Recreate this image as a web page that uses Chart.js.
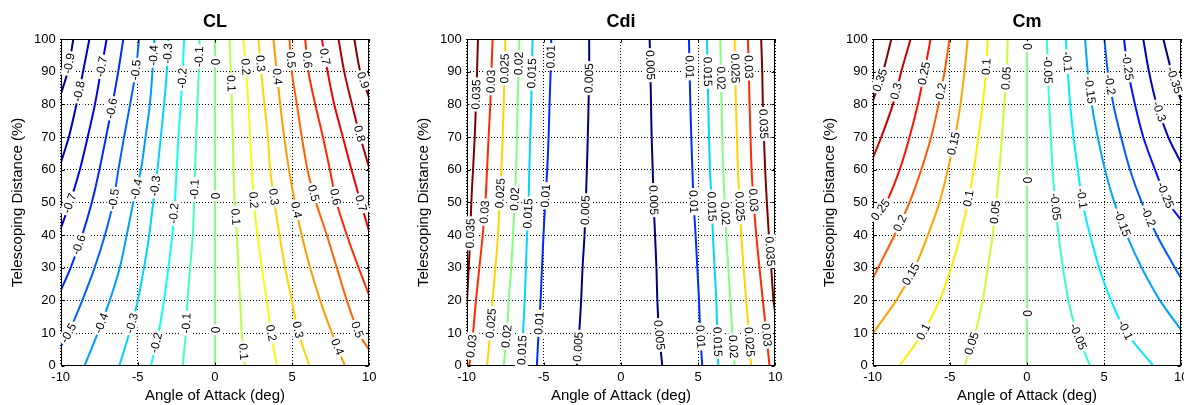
<!DOCTYPE html>
<html><head><meta charset="utf-8">
<script src="https://cdn.jsdelivr.net/npm/chart.js@4.4.1/dist/chart.umd.min.js"></script>
<style>
html,body{margin:0;padding:0;background:#fff;overflow:hidden;width:1184px;height:405px;position:relative}
canvas{position:absolute;top:0}
</style></head><body>
<canvas id="c1" width="395" height="405" style="left:0px;width:395px;height:405px"></canvas>
<canvas id="c2" width="395" height="405" style="left:406px;width:395px;height:405px"></canvas>
<canvas id="c3" width="395" height="405" style="left:812px;width:395px;height:405px"></canvas>
<script>
const _ = null;
// Telescoping distance levels (%) at which each contour's angle of attack was read
const TD = [0,10,20,30,40,50,60,70,80,90,100];
const xTicks = [-10,-5,0,5,10];
const yTicks = [0,10,20,30,40,50,60,70,80,90,100];

// ---------- CL ----------
const clLevels = [-0.9,-0.8,-0.7,-0.6,-0.5,-0.4,-0.3,-0.2,-0.1,0,0.1,0.2,0.3,0.4,0.5,0.6,0.7,0.8,0.9];
const clAoA = [
 [_,_,_,_,_,_,_,_,_,-9.55,-9.18],
 [_,_,_,_,_,_,_,-9.47,-8.98,-8.55,-8.14],
 [_,_,_,_,_,-9.4,-8.76,-8.25,-7.78,-7.4,-7.02],
 [_,_,_,-9.35,-8.6,-7.98,-7.49,-7.06,-6.65,-6.27,-5.94],
 [_,-9.5,-8.6,-7.8,-7.13,-6.6,-6.26,-5.89,-5.5,-5.14,-4.92],
 [-8.45,-7.6,-6.82,-6.17,-5.72,-5.29,-4.8,-4.5,-4.22,-4.05,-3.92],
 [-6.2,-5.55,-5.0,-4.6,-4.26,-4.0,-3.73,-3.51,-3.3,-3.12,-3.02],
 [-4.15,-3.66,-3.3,-3.02,-2.76,-2.6,-2.48,-2.37,-2.22,-2.09,-2.0],
 [-2.09,-1.89,-1.78,-1.61,-1.44,-1.35,-1.29,-1.22,-1.14,-1.05,-1.0],
 [0,0,0,0,0,0,0,0,0,0,0],
 [1.93,1.74,1.63,1.52,1.42,1.28,1.2,1.16,1.09,1.03,0.94],
 [4.01,3.64,3.36,3.04,2.76,2.52,2.39,2.28,2.17,2.02,1.85],
 [6.12,5.42,4.98,4.55,4.18,3.86,3.58,3.43,3.21,3.0,2.82],
 [8.42,7.58,6.82,6.17,5.62,5.18,4.8,4.49,4.23,4.01,3.79],
 [_,9.31,8.55,7.9,7.25,6.55,6.0,5.63,5.31,4.98,4.83],
 [_,_,_,9.31,8.55,7.88,7.45,7.0,6.5,6.06,5.85],
 [_,_,_,_,_,9.45,8.85,8.29,7.73,7.3,6.93],
 [_,_,_,_,_,_,_,9.42,8.88,8.38,8.01],
 [_,_,_,_,_,_,_,_,_,9.42,9.03]
];
const clEdgeTD = [83,62,42,23,5.8,_,_,_,_,_,_,_,_,_,4.8,21.5,41,60.5,82];
const clLabelTD = [
 [92.5],[84],[91.5,49.7],[78.8,37],[90.5,51,10],[95,54,13],[95.6,55,13],[88,46.6,7],[94.6,54,13],
 [93,52,11],
 [86.4,45.6,4.3],[91.5,50.7,10],[92.5,51.7,11],[88.5,47.7,5.8],[93.6,52.8,11],[93.6,51.7],[94.6,49.7],[71],[87.4]
];

// ---------- Cdi ----------
const cdiLevels = [0.005,0.01,0.015,0.02,0.025,0.03,0.035];
const cdiLeftAoA = [
 [-2.86,-2.71,-2.58,-2.49,-2.36,-2.28,-2.21,-2.15,-2.1,-2.06,-2.06],
 [-5.45,-5.34,-5.21,-5.12,-5.02,-4.91,-4.78,-4.69,-4.63,-4.56,-4.52],
 [-6.46,-6.35,-6.24,-6.16,-6.09,-5.99,-5.94,-5.88,-5.82,-5.77,-5.73],
 [-7.6,-7.39,-7.28,-7.11,-7.0,-6.89,-6.8,-6.74,-6.7,-6.64,-6.59],
 [-8.68,-8.47,-8.32,-8.14,-7.97,-7.86,-7.75,-7.67,-7.6,-7.54,-7.5],
 [-9.83,-9.59,-9.4,-9.18,-8.96,-8.79,-8.68,-8.58,-8.47,-8.4,-8.32],
 [_,_,_,-9.87,-9.76,-9.7,-9.59,-9.48,-9.4,-9.33,-9.27]
];
const cdiLeftEdgeTD = [_,_,_,_,_,_,18];
const cdiLeftLabelTD = [[88,47.6,5.8],[94.6,52,13],[89.5,46.6,4.8],[92.5,51,9],[91,52.8,13],[87,47,6],[83,40.5]];
const cdiRightAoA = [
 [2.68,2.47,2.36,2.3,2.21,2.12,2.06,1.99,1.95,1.91,1.86],
 [5.27,5.14,5.06,4.95,4.84,4.71,4.63,4.56,4.5,4.45,4.41],
 [6.31,6.24,6.18,6.07,5.96,5.88,5.77,5.71,5.66,5.62,5.58],
 [7.37,7.22,7.09,6.96,6.83,6.72,6.63,6.57,6.52,6.48,6.44],
 [8.44,8.29,8.12,7.95,7.8,7.69,7.58,7.52,7.45,7.41,7.37],
 [9.63,9.42,9.2,8.98,8.77,8.6,8.47,8.4,8.34,8.29,8.23],
 [_,_,9.89,9.74,9.59,9.46,9.35,9.27,9.2,9.16,9.09]
];
const cdiRightEdgeTD = [_,_,_,_,_,_,16];
const cdiRightLabelTD = [[92,50.7,9.4],[91.5,50.2,8.9],[90,48.7,7.3],[88,46.6,5.8],[91,48.7,7.3],[91.5,50.7,9.4],[74,35]];

// ---------- Cm ----------
const cmLevels = [-0.35,-0.3,-0.25,-0.2,-0.15,-0.1,-0.05,0,0.05,0.1,0.15,0.2,0.25,0.3,0.35];
const cmAoA = [
 [_,_,_,_,_,_,_,_,_,9.38,8.84],
 [_,_,_,_,_,_,_,9.16,8.41,7.91,7.54],
 [_,_,_,_,_,9.16,8.3,7.54,7.0,6.57,6.29],
 [_,_,_,9.59,8.41,7.44,6.68,6.1,5.6,5.24,5.02],
 [_,_,8.62,7.44,6.47,5.67,5.06,4.59,4.2,3.94,3.77],
 [8.19,6.47,5.45,4.68,4.09,3.6,3.3,3.02,2.8,2.65,2.52],
 [4.09,3.23,2.69,2.33,2.05,1.83,1.66,1.55,1.44,1.36,1.29],
 [0,0,0,0,0,0,0,0,0,0,0],
 [-4.05,-3.36,-2.87,-2.54,-2.22,-2.0,-1.79,-1.62,-1.47,-1.31,-1.25],
 [-8.25,-6.75,-5.67,-4.91,-4.31,-3.84,-3.45,-3.15,-2.87,-2.65,-2.54],
 [_,_,-8.47,-7.28,-6.42,-5.67,-5.13,-4.66,-4.31,-4.05,-3.84],
 [_,_,_,-9.65,-8.58,-7.61,-6.85,-6.21,-5.73,-5.34,-5.02],
 [_,_,_,_,_,-9.12,-8.25,-7.61,-7.07,-6.64,-6.25],
 [_,_,_,_,_,_,_,-9.44,-8.69,-8.15,-7.54],
 [_,_,_,_,_,_,_,_,_,-9.33,-8.79]
];
const cmEdgeTD = [81,62,44.6,26.7,10.9,_,_,_,_,_,9.9,26.7,44.6,63.5,81];
const cmLabelTD = [
 [87.4],[77.8],[91.5,52.2],[86,45.6],[84.4,43.6],[93,51.2,10.9],[90.5,48.7,8.9],
 [97.7,56.8,16],
 [88,47,6.8],[91.5,51.2,10.4],[68,28],[84,43.6],[89.5,47.7],[84],[87.4]
];

// ---------- helpers ----------
const FONT = "'Liberation Sans', Arial, Helvetica, sans-serif";
Chart.defaults.font.family = FONT;
Chart.defaults.color = '#000';

function jet(t){
  const c = v => Math.round(255*Math.max(0,Math.min(1,v)));
  return `rgb(${c(1.5-Math.abs(4*t-3))},${c(1.5-Math.abs(4*t-2))},${c(1.5-Math.abs(4*t-1))})`;
}
function buildContours(levels, rows, edges, labels){
  const n = levels.length;
  return levels.map((lv,i)=>{
    const row = rows[i];
    const first = row.find(v=>v!==null);
    const side = first < 0 ? -10 : 10;
    const pts = [];
    if (edges[i] !== null) pts.push({x:side, y:edges[i]});
    TD.forEach((td,k)=>{ if(row[k]!==null) pts.push({x:row[k], y:td}); });
    return {level:lv, pts, color: jet(n>1 ? i/(n-1) : 0), labels: labels[i]};
  });
}

function makeChart(id, title, contours){
  const datasets = contours.map(c=>({
    data: c.pts, borderColor: c.color, backgroundColor: c.color, borderWidth: 2,
    pointRadius: 0, showLine: true, tension: 0.3, fill: false
  }));
  const deco = {
    id: 'deco'+id,
    afterDatasetsDraw(chart){
      const ctx = chart.ctx, a = chart.chartArea, xs = chart.scales.x, ys = chart.scales.y;
      ctx.save();
      ctx.strokeStyle = '#000'; ctx.lineWidth = 1;
      const L = Math.round(a.left)+0.5, R = Math.round(a.right)-0.5, T = Math.round(a.top)+0.5, B = Math.round(a.bottom)-0.5;
      ctx.strokeRect(L, T, R-L, B-T);
      ctx.beginPath();
      xTicks.forEach(v=>{ const p = Math.round(xs.getPixelForValue(v))+0.5; ctx.moveTo(p,B); ctx.lineTo(p,B-3); ctx.moveTo(p,T); ctx.lineTo(p,T+3); });
      yTicks.forEach(v=>{ const p = Math.round(ys.getPixelForValue(v))+0.5; ctx.moveTo(L,p); ctx.lineTo(L+3,p); ctx.moveTo(R,p); ctx.lineTo(R-3,p); });
      ctx.stroke();
      ctx.restore();
      ctx.save();
      ctx.font = '12px ' + FONT;
      ctx.textAlign = 'center'; ctx.textBaseline = 'middle';
      contours.forEach(c=>{
        const P = c.pts.map(p=>({x: xs.getPixelForValue(p.x), y: ys.getPixelForValue(p.y), td: p.y}));
        c.labels.forEach(td=>{
          let k = 0;
          while (k < P.length-2 && P[k+1].td < td) k++;
          const p1 = P[k], p2 = P[k+1];
          const f = (td - p1.td)/(p2.td - p1.td);
          const px = p1.x + f*(p2.x-p1.x), py = p1.y + f*(p2.y-p1.y);
          let ang = Math.atan2(p2.y-p1.y, p2.x-p1.x);
          if (ang > Math.PI/2 + 1e-6) ang -= Math.PI;
          if (ang <= -Math.PI/2 + 1e-6) ang += Math.PI;
          const txt = String(c.level);
          const w = ctx.measureText(txt).width;
          ctx.save();
          ctx.translate(px, py); ctx.rotate(ang);
          ctx.fillStyle = '#fff';
          ctx.fillRect(-w/2-2, -6.5, w+4, 13);
          ctx.fillStyle = '#000';
          ctx.fillText(txt, 0, 0.5);
          ctx.restore();
        });
      });
      ctx.restore();
    },
    afterDraw(chart){
      const ctx = chart.ctx, a = chart.chartArea;
      ctx.save();
      ctx.font = 'bold 18px ' + FONT;
      ctx.fillStyle = '#000'; ctx.textAlign = 'center'; ctx.textBaseline = 'middle';
      ctx.fillText(title, (a.left+a.right)/2, 22);
      ctx.restore();
    }
  };
  return new Chart(document.getElementById(id), {
    type: 'scatter',
    data: { datasets },
    options: {
      responsive: false, animation: false, events: [],
      layout: { padding: { left: 0, right: 25.8, top: 39, bottom: 0 } },
      plugins: { legend: {display:false}, tooltip: {enabled:false}, title: {display:false} },
      scales: {
        x: {
          type: 'linear', min: -10, max: 10,
          afterFit: s => { s.height = 39.3; },
          afterBuildTicks: s => { s.ticks = xTicks.map(v=>({value:v})); },
          ticks: { padding: 4, font: {size: 13}, color: '#000', maxRotation: 0, autoSkip: false },
          grid: { color: '#000', lineWidth: 1, drawTicks: false },
          border: { display: false, dash: [1,2] },
          title: { display: true, text: 'Angle of Attack (deg)', font: {size: 15}, color: '#000', padding: {top:0, bottom:0} }
        },
        y: {
          type: 'linear', min: 0, max: 100,
          afterFit: s => { s.width = 60.7; },
          afterBuildTicks: s => { s.ticks = yTicks.map(v=>({value:v})); },
          ticks: { padding: 5, font: {size: 13}, color: '#000', autoSkip: false },
          grid: { color: '#000', lineWidth: 1, drawTicks: false },
          border: { display: false, dash: [1,2] },
          title: { display: true, text: 'Telescoping Distance (%)', font: {size: 15}, color: '#000', padding: {top: 9} }
        }
      }
    },
    plugins: [deco]
  });
}

const clContours = buildContours(clLevels, clAoA, clEdgeTD, clLabelTD);
const cdiContours = buildContours(cdiLevels, cdiLeftAoA, cdiLeftEdgeTD, cdiLeftLabelTD)
  .concat(buildContours(cdiLevels, cdiRightAoA, cdiRightEdgeTD, cdiRightLabelTD));
const cmContours = buildContours(cmLevels, cmAoA, cmEdgeTD, cmLabelTD);

makeChart('c1', 'CL', clContours);
makeChart('c2', 'Cdi', cdiContours);
makeChart('c3', 'Cm', cmContours);
</script>
</body></html>
